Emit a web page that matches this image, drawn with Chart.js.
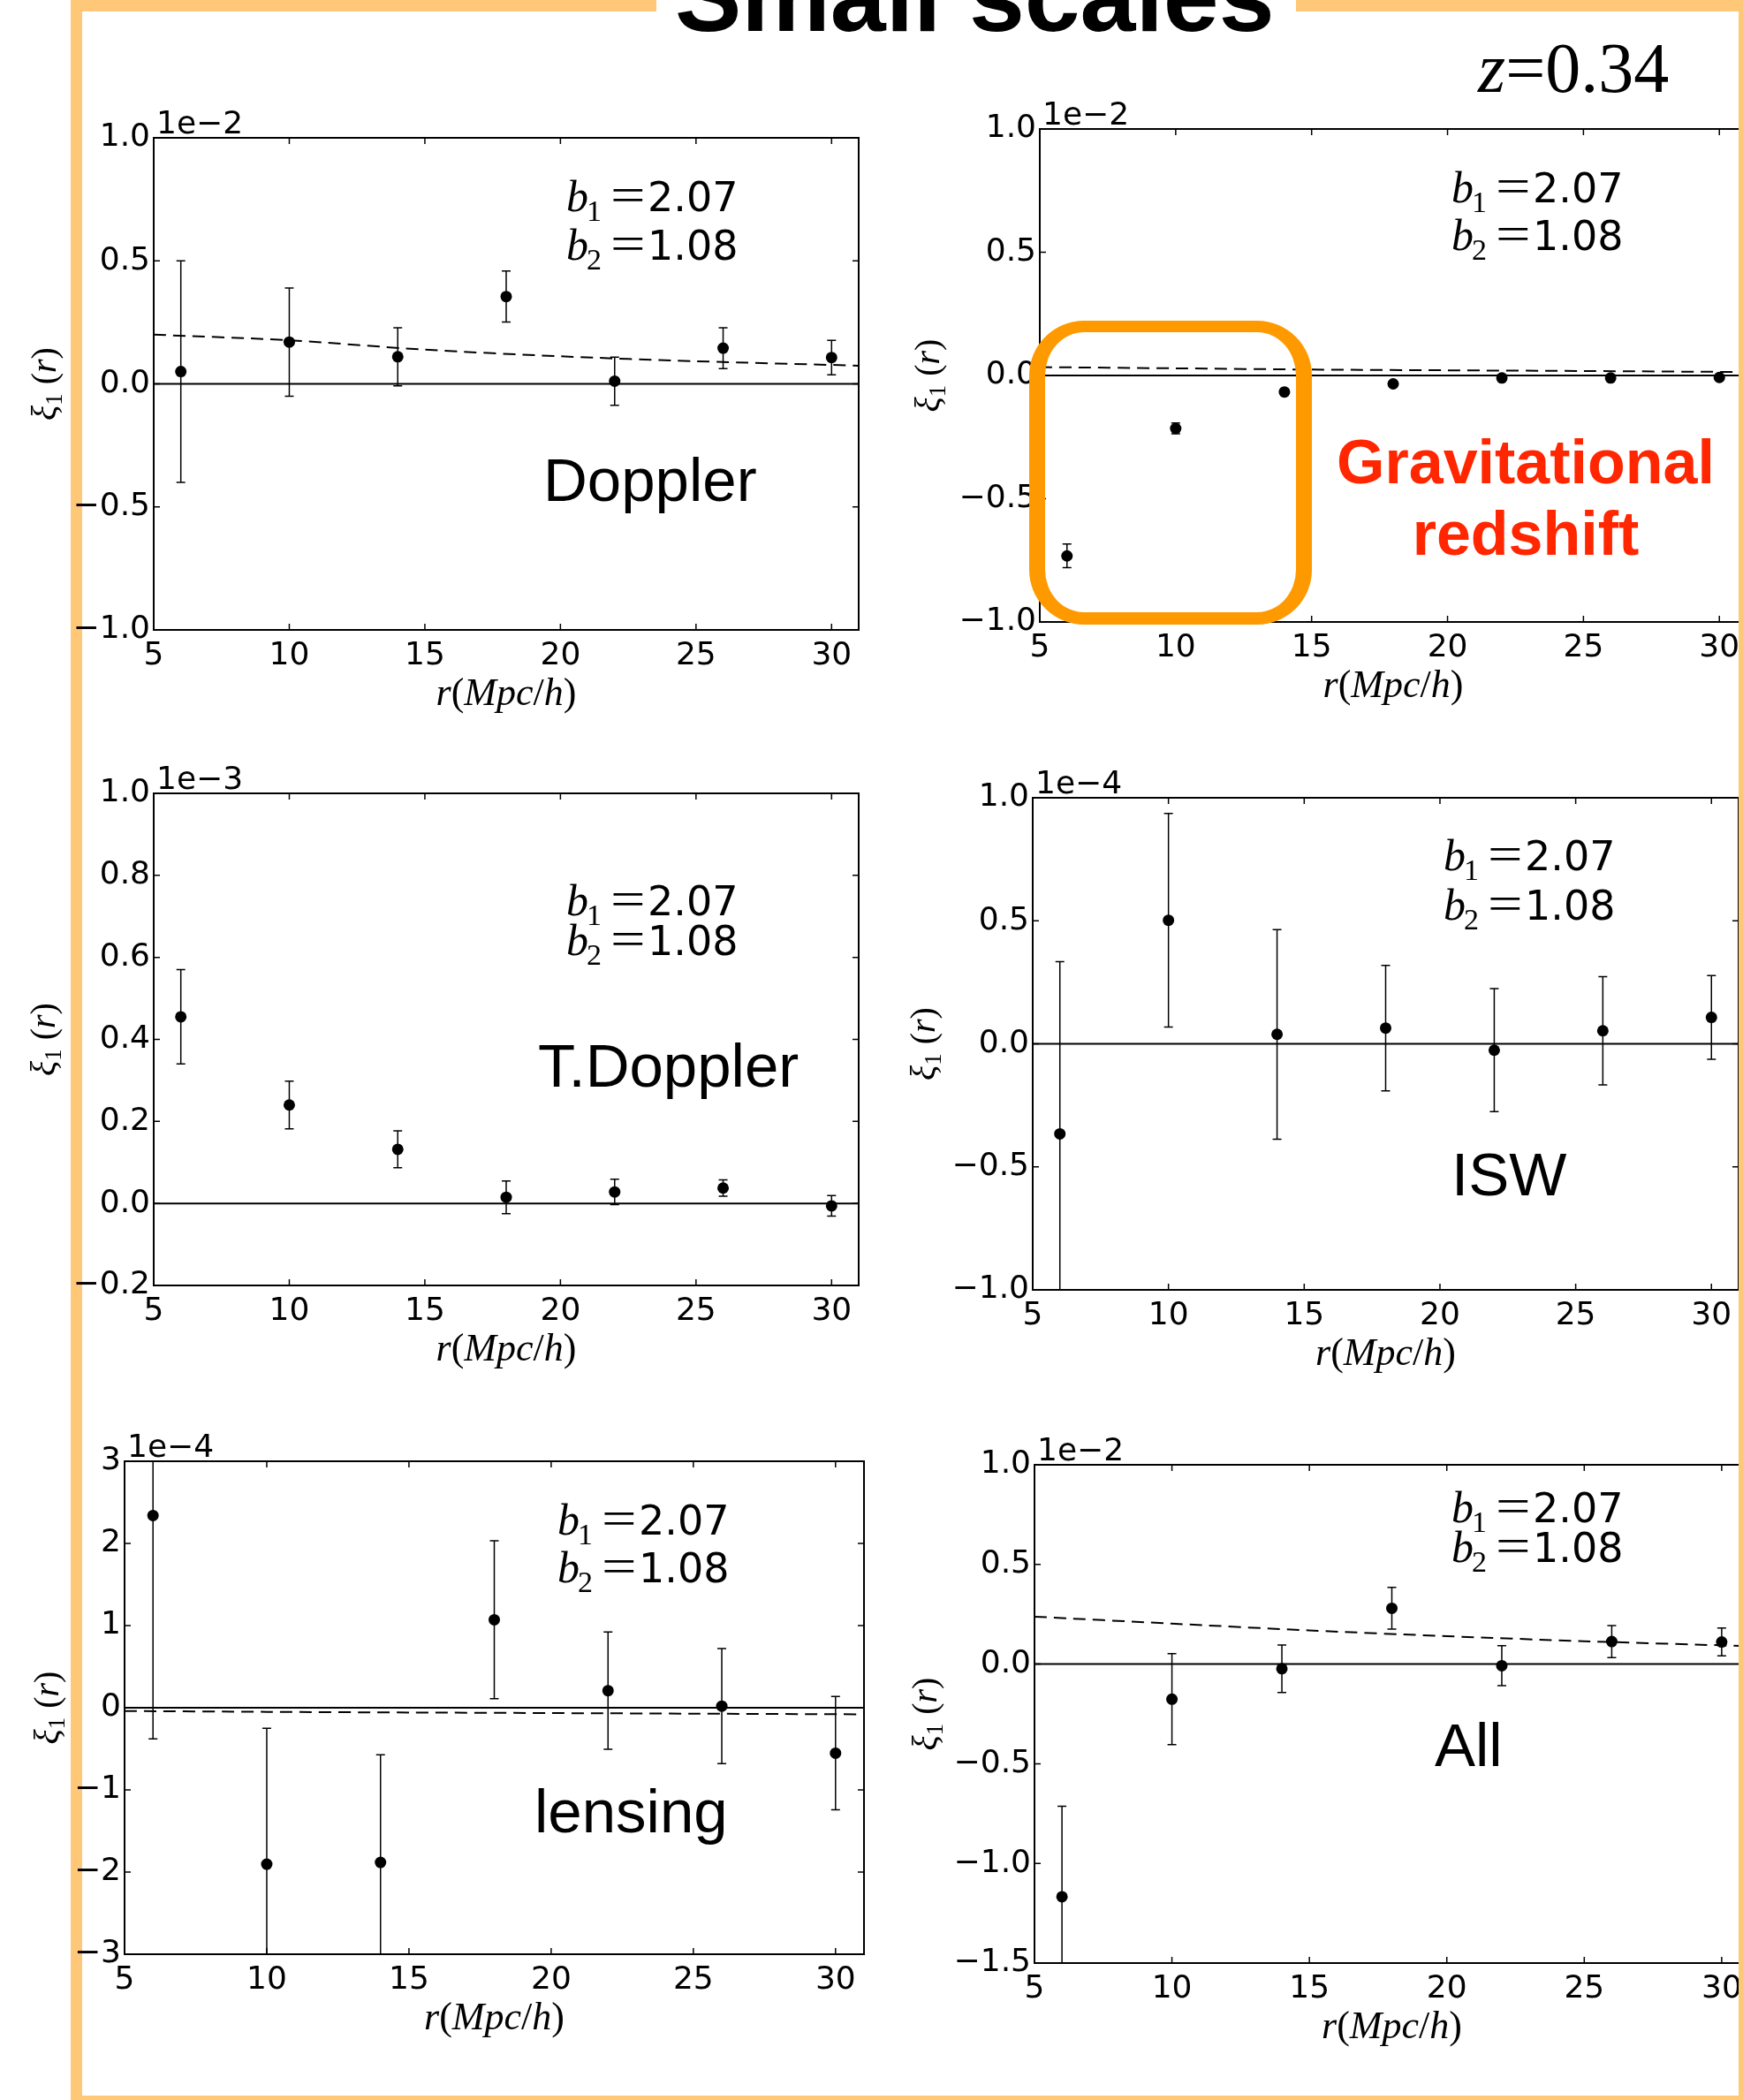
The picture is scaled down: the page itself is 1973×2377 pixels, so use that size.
<!DOCTYPE html>
<html>
<head>
<meta charset="utf-8">
<title>Small scales</title>
<script src="https://cdn.jsdelivr.net/npm/chart.js@4.4.1/dist/chart.umd.min.js"></script>
<style>
  html, body { margin: 0; padding: 0; background: #fff; }
  body { position: relative; width: 1973px; height: 2377px; overflow: hidden; }
  .bar { position: absolute; background: #ffc878; z-index: 1; }
  .bar.front { z-index: 6; }
  canvas { position: absolute; z-index: 2; }
  #title { position: absolute; left: 764px; top: -69px; line-height: 0; white-space: nowrap;
           font: bold 113px "Liberation Sans", Arial, sans-serif; color: #000; z-index: 3; }
  #zlabel { position: absolute; left: 1673px; top: 32px; line-height: 0; white-space: nowrap;
            font: 80px "Liberation Serif", serif; color: #000; z-index: 3; }
  #gzbox { position: absolute; left: 1165px; top: 363px; width: 320px; height: 344px; box-sizing: border-box;
           border: solid #ff9900; border-width: 13px 18px 14px 18px; border-radius: 62px; z-index: 5; }
  .red { position: absolute; left: 1427px; width: 600px; text-align: center; line-height: 0; white-space: nowrap;
         font: bold 70px "Liberation Sans", Arial, sans-serif; color: #ff2600; z-index: 5; }
</style>
</head>
<body>
<div class="bar" style="left:80px;top:0;width:663px;height:13px"></div>
<div class="bar" style="left:1467px;top:0;width:506px;height:13px"></div>
<div class="bar" style="left:80px;top:0;width:13px;height:2377px"></div>
<div class="bar" style="left:80px;top:2372px;width:1893px;height:5px"></div>
<div class="bar front" style="left:1968px;top:0;width:5px;height:2377px"></div>
<div id="title">Small scales</div>
<div id="zlabel"><i>z</i>=0.34</div>
<div id="gzbox"></div>
<div class="red" style="top:483px">Gravitational</div>
<div class="red" style="top:564px">redshift</div>

<script>
// r bins (Mpc/h) and axis range
const rBins = [6, 10, 14, 18, 22, 26, 30];
const rModel = [5, 10, 15, 20, 25, 31];
const rAxis = [5, 31, 5]; // min, max, step

const biasValues = ['2.07', '1.08'];

// Doppler (x 1e-2)
const dopplerXi = [0.05, 0.17, 0.11, 0.355, 0.011, 0.145, 0.107];
const dopplerErr = [0.45, 0.22, 0.118, 0.104, 0.098, 0.083, 0.07];
const dopplerModel = [0.2, 0.177, 0.139, 0.112, 0.092, 0.074];
const dopplerAxis = [-1.0, 1.0, 0.5];

// Gravitational redshift (x 1e-2)
const gravXi = [-0.732, -0.215, -0.067, -0.034, -0.01, -0.01, -0.008];
const gravErr = [0.048, 0.022, 0.01, 0.006, 0.005, 0.005, 0.005];
const gravModel = [0.034, 0.029, 0.024, 0.021, 0.018, 0.014];
const gravAxis = [-1.0, 1.0, 0.5];

// T.Doppler (x 1e-3)
const tdopXi = [0.455, 0.24, 0.132, 0.015, 0.028, 0.0375, -0.006];
const tdopErr = [0.115, 0.058, 0.045, 0.04, 0.031, 0.02, 0.025];
const tdopAxis = [-0.2, 1.0, 0.2];

// ISW (x 1e-4)
const iswXi = [-0.366, 0.502, 0.0385, 0.064, -0.026, 0.053, 0.1075];
const iswErr = [0.70, 0.434, 0.426, 0.255, 0.25, 0.22, 0.17];
const iswAxis = [-1.0, 1.0, 0.5];

// lensing (x 1e-4)
const lensXi = [2.34, -1.904, -1.883, 1.071, 0.208, 0.02, -0.553];
const lensErr = [2.72, 1.655, 1.31, 0.96, 0.714, 0.70, 0.69];
const lensModel = [-0.04, -0.05, -0.058, -0.065, -0.072, -0.08];
const lensAxis = [-3, 3, 1];

// All (x 1e-2)
const allXi = [-1.167, -0.176, -0.023, 0.28, -0.008, 0.113, 0.111];
const allErr = [0.454, 0.228, 0.119, 0.105, 0.10, 0.08, 0.07];
const allModel = [0.238, 0.203, 0.169, 0.14, 0.115, 0.09];
const allAxis = [-1.5, 1.0, 0.5];

const panels = [
  { name: 'Doppler', xi: dopplerXi, err: dopplerErr, model: dopplerModel, axis: dopplerAxis, exp: '1e\u22122', digits: 1 },
  { name: '', xi: gravXi, err: gravErr, model: gravModel, axis: gravAxis, exp: '1e\u22122', digits: 1 },
  { name: 'T.Doppler', xi: tdopXi, err: tdopErr, model: null, axis: tdopAxis, exp: '1e\u22123', digits: 1 },
  { name: 'ISW', xi: iswXi, err: iswErr, model: null, axis: iswAxis, exp: '1e\u22124', digits: 1 },
  { name: 'lensing', xi: lensXi, err: lensErr, model: lensModel, axis: lensAxis, exp: '1e\u22124', digits: 0 },
  { name: 'All', xi: allXi, err: allErr, model: allModel, axis: allAxis, exp: '1e\u22122', digits: 1 }
];

// page geometry: plot area [left, top, right, bottom], bias note [dx, dy1, dy2], name [dx, dy], y title baseline dx
const boxes = [
  { area: [174, 156, 972, 713],   note: [467, 83, 138], label: [441, 411], yt: -111.5 },
  { area: [1177, 146, 1977, 704], note: [466, 83, 137], label: [0, 0],     yt: -114.5 },
  { area: [174, 898, 972, 1455],  note: [467, 138, 183], label: [435, 332], yt: -112.5 },
  { area: [1169, 903, 1968, 1460], note: [465, 82, 138], label: [474, 450], yt: -111 },
  { area: [141, 1654, 978, 2212], note: [490, 83, 137], label: [464, 420], yt: -75 },
  { area: [1171, 1658, 1980, 2222], note: [472, 65, 110], label: [453, 341], yt: -111.5 }
];

const PAD = { left: 150, top: 70, right: 30, bottom: 110 };
const TICK = 7;
const SERIF = '"Liberation Serif", "DejaVu Serif", serif';
const SANS = '"DejaVu Sans", sans-serif';

function drawPieces(ctx, pieces, x, y, align) {
  let total = 0;
  pieces.forEach(p => { ctx.font = p.font; p.w = ctx.measureText(p.t).width; total += p.w; });
  let cx = align === 'center' ? x - total / 2 : x;
  pieces.forEach(p => { ctx.font = p.font; ctx.fillText(p.t, cx, y + (p.dy || 0)); cx += p.w; });
}

function decorFor(p, box) {
  return {
    id: 'panelDecor',
    beforeDatasetsDraw(chart) {
      const { ctx, chartArea: a, scales: { x, y } } = chart;
      ctx.save();
      ctx.beginPath();
      ctx.rect(a.left, a.top, a.right - a.left, a.bottom - a.top);
      ctx.clip();
      ctx.strokeStyle = '#000';
      ctx.lineWidth = 1.5;
      p.xi.forEach((v, i) => {
        const px = x.getPixelForValue(rBins[i]);
        const y1 = y.getPixelForValue(v + p.err[i]);
        const y2 = y.getPixelForValue(v - p.err[i]);
        ctx.beginPath();
        ctx.moveTo(px, y1); ctx.lineTo(px, y2);
        ctx.moveTo(px - 5, y1); ctx.lineTo(px + 5, y1);
        ctx.moveTo(px - 5, y2); ctx.lineTo(px + 5, y2);
        ctx.stroke();
      });
      ctx.restore();
    },
    afterDraw(chart) {
      const { ctx, chartArea: a, scales: { x, y } } = chart;
      ctx.save();
      ctx.strokeStyle = '#000';
      ctx.lineWidth = 2;
      ctx.strokeRect(a.left, a.top, a.right - a.left, a.bottom - a.top);

      // inward ticks on all four sides
      ctx.lineWidth = 1.5;
      ctx.beginPath();
      x.ticks.forEach(t => {
        const px = x.getPixelForValue(t.value);
        ctx.moveTo(px, a.bottom); ctx.lineTo(px, a.bottom - TICK);
        ctx.moveTo(px, a.top); ctx.lineTo(px, a.top + TICK);
      });
      y.ticks.forEach(t => {
        const py = y.getPixelForValue(t.value);
        ctx.moveTo(a.left, py); ctx.lineTo(a.left + TICK, py);
        ctx.moveTo(a.right, py); ctx.lineTo(a.right - TICK, py);
      });
      ctx.stroke();

      ctx.fillStyle = '#000';
      ctx.textAlign = 'left';
      ctx.textBaseline = 'alphabetic';

      // offset text
      ctx.font = '36px ' + SANS;
      ctx.fillText(p.exp, a.left + 3, a.top - 5);

      // x title r(Mpc/h)
      const it = 'italic 44px ' + SERIF, up = '44px ' + SERIF;
      drawPieces(ctx, [
        { t: 'r', font: it }, { t: '(', font: up }, { t: 'Mpc', font: it },
        { t: '/', font: up }, { t: 'h', font: it }, { t: ')', font: up }
      ], (a.left + a.right) / 2, a.bottom + 85, 'center');

      // y title xi_1(r)
      ctx.save();
      ctx.translate(a.left + box.yt, (a.top + a.bottom) / 2);
      ctx.rotate(-Math.PI / 2);
      drawPieces(ctx, [
        { t: '\u03be', font: 'italic 40px ' + SERIF },
        { t: '1', font: '27px ' + SERIF, dy: 7 },
        { t: ' (', font: '40px ' + SERIF },
        { t: 'r', font: 'italic 40px ' + SERIF },
        { t: ')', font: '40px ' + SERIF }
      ], 0, 0, 'center');
      ctx.restore();

      // bias note
      const nx = a.left + box.note[0];
      biasValues.forEach((val, k) => {
        const by = a.top + box.note[1 + k];
        ctx.font = 'italic 50px ' + SERIF;
        ctx.fillText('b', nx, by);
        const wb = ctx.measureText('b').width;
        ctx.font = '34px ' + SERIF;
        ctx.fillText(String(k + 1), nx + wb - 2, by + 11);
        // wide math equals sign
        ctx.save();
        ctx.translate(nx + 50, by);
        ctx.scale(1.3, 1);
        ctx.font = '54px ' + SERIF;
        ctx.fillText('=', 0, 0);
        ctx.restore();
        ctx.font = '46px ' + SANS;
        ctx.fillText(val, nx + 92, by);
      });

      // panel name
      if (p.name) {
        ctx.font = '69px "Liberation Sans", Arial, sans-serif';
        ctx.fillText(p.name, a.left + box.label[0], a.top + box.label[1]);
      }
      ctx.restore();
    }
  };
}

function makePanel(p, box) {
  const [L, T, R, B] = box.area;
  const canvas = document.createElement('canvas');
  const W = R - L + PAD.left + PAD.right;
  const H = B - T + PAD.top + PAD.bottom;
  canvas.width = W;
  canvas.height = H;
  canvas.style.width = W + 'px';
  canvas.style.height = H + 'px';
  canvas.style.left = (L - PAD.left) + 'px';
  canvas.style.top = (T - PAD.top) + 'px';
  document.body.appendChild(canvas);

  const datasets = [
    {
      label: 'zero', data: [{ x: rAxis[0], y: 0 }, { x: rAxis[1], y: 0 }],
      showLine: true, borderColor: '#000', borderWidth: 2, pointRadius: 0
    },
    {
      label: 'xi', data: rBins.map((r, i) => ({ x: r, y: p.xi[i] })),
      showLine: false, pointRadius: 6.5, pointBackgroundColor: '#000', pointBorderWidth: 0
    }
  ];
  if (p.model) {
    datasets.push({
      label: 'model', data: rModel.map((r, i) => ({ x: r, y: p.model[i] })),
      showLine: true, borderColor: '#000', borderWidth: 2, borderDash: [14, 8], pointRadius: 0, tension: 0.3
    });
  }

  const tickFont = { family: 'DejaVu Sans', size: 36 };
  new Chart(canvas.getContext('2d'), {
    type: 'scatter',
    data: { datasets },
    options: {
      responsive: false,
      animation: false,
      events: [],
      devicePixelRatio: 1,
      layout: { padding: { left: 0, top: PAD.top, right: PAD.right, bottom: 0 } },
      plugins: { legend: { display: false }, tooltip: { enabled: false } },
      scales: {
        x: {
          type: 'linear', min: rAxis[0], max: rAxis[1],
          grid: { display: false, drawTicks: false },
          border: { display: false },
          ticks: { stepSize: rAxis[2], includeBounds: false, autoSkip: false, maxRotation: 0,
                   color: '#000', font: tickFont, padding: 8, callback: v => String(v) },
          afterFit: s => { s.height = PAD.bottom; }
        },
        y: {
          type: 'linear', min: p.axis[0], max: p.axis[1],
          grid: { display: false, drawTicks: false },
          border: { display: false },
          ticks: { stepSize: p.axis[2], autoSkip: false, color: '#000', font: tickFont, padding: 4,
                   callback: v => (Math.abs(v) < 1e-9 ? 0 : v).toFixed(p.digits).replace('-', '\u2212') },
          afterFit: s => { s.width = PAD.left; }
        }
      }
    },
    plugins: [decorFor(p, box)]
  });
}

panels.forEach((p, i) => makePanel(p, boxes[i]));
</script>
</body>
</html>
